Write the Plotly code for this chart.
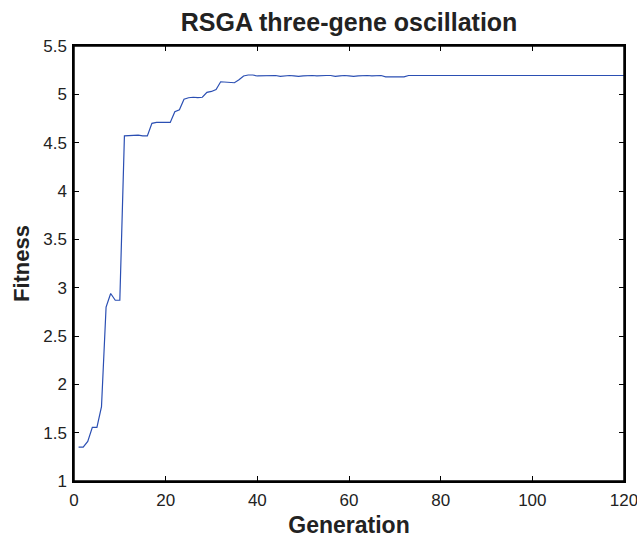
import plotly.graph_objects as go

generations = list(range(1, 121))

early = [1.35, 1.35, 1.41, 1.555, 1.555, 1.77, 2.80, 2.94, 2.87, 2.87,
         4.57, 4.575, 4.58, 4.578, 4.57, 4.57, 4.70, 4.71, 4.71, 4.71,
         4.71, 4.82, 4.84, 4.95, 4.965, 4.97, 4.965, 4.97, 5.02, 5.03,
         5.05, 5.13, 5.125, 5.12, 5.12, 5.15, 5.19, 5.20, 5.20, 5.19]
middle = [5.19, 5.19, 5.19, 5.195, 5.185, 5.19, 5.195, 5.19, 5.185, 5.19,
          5.195, 5.195, 5.19, 5.195, 5.195, 5.195, 5.185, 5.19, 5.195, 5.19,
          5.185, 5.19, 5.195, 5.195, 5.19, 5.195, 5.195, 5.18, 5.18, 5.18,
          5.18, 5.18, 5.195]
late = [5.195] * (120 - len(early) - len(middle))
fitness = early + middle + late

x_ticks = [0, 20, 40, 60, 80, 100, 120]
y_ticks = [1, 1.5, 2, 2.5, 3, 3.5, 4, 4.5, 5, 5.5]
y_tick_labels = ["1", "1.5", "2", "2.5", "3", "3.5", "4", "4.5", "5", "5.5"]

FONT = "Liberation Sans, Arial, sans-serif"

fig = go.Figure()
fig.add_trace(go.Scatter(x=generations, y=fitness, mode="lines",
                         line=dict(color="#2b4fb3", width=1.2), showlegend=False))

axis_common = dict(showline=True, linecolor="black", linewidth=1.5, mirror="allticks",
                   ticks="inside", ticklen=5, tickcolor="black", showgrid=False,
                   zeroline=False, ticklabeloverflow="allow", automargin=False,
                   tickfont=dict(family=FONT, size=17, color="#222"))

fig.update_layout(
    width=637, height=538,
    margin=dict(l=74, r=13, t=46, b=57, autoexpand=False),
    paper_bgcolor="white", plot_bgcolor="white",
    title=dict(text="<b>RSGA three-gene oscillation</b>", x=0.548, xanchor="center",
               y=0.959, yanchor="middle",
               font=dict(family=FONT, size=25, color="#222")),
    xaxis=dict(range=[0, 120], tickvals=x_ticks, ticklabelstandoff=3,
               title=dict(text="<b>Generation</b>", standoff=8,
                          font=dict(family=FONT, size=23, color="#222")),
               **axis_common),
    yaxis=dict(range=[1, 5.5], tickvals=y_ticks, ticktext=y_tick_labels,
               ticklabelstandoff=2,
               title=dict(text="<b>Fitness</b>", standoff=8,
                          font=dict(family=FONT, size=22, color="#222")),
               **axis_common),
    shapes=[dict(type="rect", xref="paper", yref="paper", x0=0, x1=1, y0=0, y1=1,
                 line=dict(color="black", width=1.5), layer="above")],
)

fig.write_html(
    "out.html", config={"displayModeBar": False},
    post_script=("document.body.style.margin='0';document.body.style.padding='0';"
                 "document.body.style.overflow='hidden';"
                 "document.documentElement.style.overflow='hidden';"))
